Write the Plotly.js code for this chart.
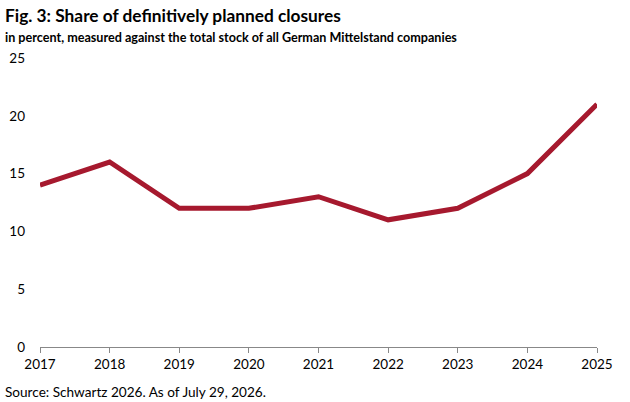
<!DOCTYPE html>
<html><head><meta charset="utf-8">
<script src="https://cdn.plot.ly/plotly-3.0.1.min.js"></script>
<style>html,body{margin:0;padding:0;background:#fff}#c{width:630px;height:402px}</style>
</head><body><div id="c"></div>
<script>
const years = [2017, 2018, 2019, 2020, 2021, 2022, 2023, 2024, 2025];
const shares = [14, 16, 12, 12, 13, 11, 12, 15, 21];
const yTicks = [0, 5, 10, 15, 20, 25];
const titleText = "Fig. 3: Share of definitively planned closures";
const subtitleText = "in percent, measured against the total stock of all German Mittelstand companies";
const sourceText = "Source: Schwartz 2026. As of July 29, 2026.";
const FONT = "Lato, 'Open Sans', sans-serif";
Plotly.newPlot('c', [{
  x: years, y: shares, type: 'scatter', mode: 'lines',
  line: {color: '#A6192E', width: 5}, hoverinfo: 'none'
}], {
  width: 630, height: 402,
  margin: {l: 40, r: 33, t: 58, b: 55},
  paper_bgcolor: '#fff', plot_bgcolor: '#fff',
  showlegend: false,
  font: {family: FONT, size: 13, color: '#000'},
  xaxis: {range: [2017, 2025], tickvals: years, ticktext: years.map(String),
    showgrid: false, zeroline: false, showline: true, linecolor: '#888', linewidth: 1,
    ticks: 'outside', ticklen: 5, tickcolor: '#888', tickfont: {family: FONT, size: 13.5, color: '#000'}},
  yaxis: {range: [0, 25], tickvals: yTicks, showgrid: false, zeroline: false, showline: false,
    ticks: '', ticklabelstandoff: 14, tickfont: {family: FONT, size: 13.5, color: '#000'}},
  annotations: [
    {text: '<b>' + titleText + '</b>', xref: 'paper', yref: 'paper', x: 0, y: 1, xanchor: 'left', yanchor: 'bottom',
     xshift: -37, yshift: 30, showarrow: false, font: {family: FONT, size: 17.3, color: '#000'}},
    {text: '<b>' + subtitleText + '</b>', xref: 'paper', yref: 'paper', x: 0, y: 1, xanchor: 'left', yanchor: 'bottom',
     xshift: -37, yshift: 11, showarrow: false, font: {family: FONT, size: 12.6, color: '#000'}},
    {text: sourceText, xref: 'paper', yref: 'paper', x: 0, y: 0, xanchor: 'left', yanchor: 'top',
     xshift: -37, yshift: -35, showarrow: false, font: {family: FONT, size: 13.6, color: '#000'}}
  ]
}, {displayModeBar: false, staticPlot: true});
</script></body></html>
